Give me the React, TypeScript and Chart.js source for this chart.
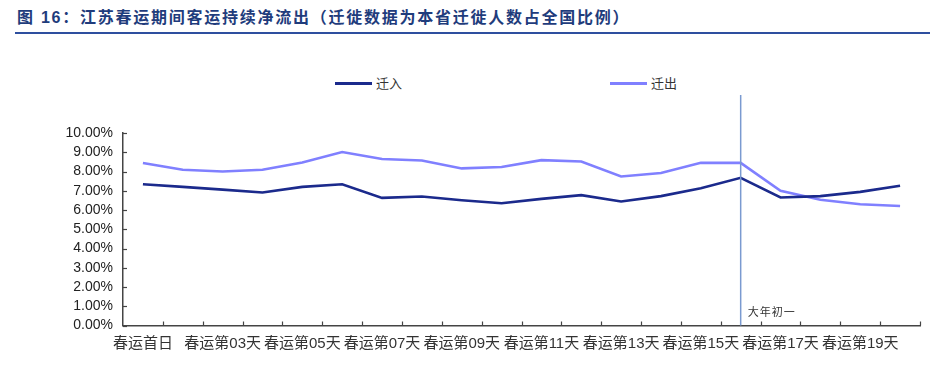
import React, { useEffect, useRef } from "react";
import { Chart, registerables } from "chart.js";

Chart.register(...registerables);

const categories = [
  "春运首日", "春运第02天", "春运第03天", "春运第04天", "春运第05天",
  "春运第06天", "春运第07天", "春运第08天", "春运第09天", "春运第10天",
  "春运第11天", "春运第12天", "春运第13天", "春运第14天", "春运第15天",
  "春运第16天", "春运第17天", "春运第18天", "春运第19天", "春运第20天",
];

const inflow = [
  7.34, 7.2, 7.06, 6.91, 7.2, 7.34, 6.63, 6.7, 6.51, 6.35,
  6.58, 6.77, 6.44, 6.72, 7.13, 7.67, 6.65, 6.72, 6.94, 7.26,
];

const outflow = [
  8.44, 8.09, 8.0, 8.09, 8.47, 9.01, 8.65, 8.57, 8.16, 8.23,
  8.59, 8.52, 7.74, 7.92, 8.45, 8.45, 7.0, 6.53, 6.3, 6.21,
];

const seriesNames = ["迁入", "迁出"];
const markerIndex = 15;
const markerLabel = "大年初一";
const yTicks = [0, 1, 2, 3, 4, 5, 6, 7, 8, 9, 10];

const COLOR_IN = "#1b2a8c";
const COLOR_OUT = "#8080ff";
const FONT = '"Liberation Sans", Arial, "Noto Sans CJK SC", sans-serif';

const extrasPlugin = {
  id: "extras",
  afterDraw(chart: any) {
    const { ctx, chartArea, scales } = chart;
    const xs = scales.x;
    const ys = scales.y;
    ctx.save();
    ctx.strokeStyle = "#444";
    ctx.lineWidth = 1.2;
    const n = categories.length;
    const w = (chartArea.right - chartArea.left) / n;
    for (let i = 1; i <= n; i++) {
      const x = Math.round(chartArea.left + i * w) + 0.5;
      ctx.beginPath();
      ctx.moveTo(x, chartArea.bottom);
      ctx.lineTo(x, chartArea.bottom - 4);
      ctx.stroke();
    }
    yTicks.forEach((v) => {
      const y = Math.round(ys.getPixelForValue(v)) + 0.5;
      ctx.beginPath();
      ctx.moveTo(chartArea.left, y);
      ctx.lineTo(chartArea.left + 4, y);
      ctx.stroke();
    });
    const mx = xs.getPixelForValue(markerIndex);
    ctx.strokeStyle = "#7a9ad0";
    ctx.lineWidth = 1.5;
    ctx.beginPath();
    ctx.moveTo(mx, 95);
    ctx.lineTo(mx, chartArea.bottom);
    ctx.stroke();
    ctx.fillStyle = "#333";
    ctx.font = '11px "Noto Sans CJK SC", sans-serif';
    ctx.textBaseline = "middle";
    ctx.textAlign = "left";
    let tx = mx + 7;
    for (const ch of markerLabel) {
      ctx.fillText(ch, tx, 312);
      tx += 12;
    }
    ctx.restore();
  },
};

export default function App() {
  const ref = useRef<HTMLCanvasElement | null>(null);

  useEffect(() => {
    if (!ref.current) return;
    const chart = new Chart(ref.current, {
      type: "line",
      data: {
        labels: categories,
        datasets: [
          {
            label: seriesNames[0],
            data: inflow,
            borderColor: COLOR_IN,
            backgroundColor: COLOR_IN,
            borderWidth: 2.6,
            pointRadius: 0,
            tension: 0,
          },
          {
            label: seriesNames[1],
            data: outflow,
            borderColor: COLOR_OUT,
            backgroundColor: COLOR_OUT,
            borderWidth: 2.6,
            pointRadius: 0,
            tension: 0,
          },
        ],
      },
      options: {
        animation: false,
        responsive: true,
        maintainAspectRatio: false,
        layout: { padding: { left: 0, right: 24, top: 133, bottom: 0 } },
        plugins: {
          legend: { display: false },
          tooltip: { enabled: false },
        },
        scales: {
          x: {
            type: "category",
            offset: true,
            grid: { display: false, drawTicks: false },
            border: { display: true, color: "#444", width: 1.5 },
            ticks: {
              autoSkip: false,
              maxRotation: 0,
              minRotation: 0,
              padding: 9,
              color: "#333",
              font: { family: FONT, size: 15 },
              callback: (_v: any, i: number) => (i % 2 === 0 ? categories[i] : ""),
            },
            afterFit: (s: any) => {
              s.height = 43.5;
            },
          },
          y: {
            min: 0,
            max: 10,
            grid: { display: false, drawTicks: false },
            border: { display: true, color: "#444", width: 1.5 },
            ticks: {
              stepSize: 1,
              autoSkip: false,
              padding: 10,
              color: "#222",
              font: { family: FONT, size: 14 },
              callback: (v: any) => Number(v).toFixed(2) + "%",
            },
            afterFit: (s: any) => {
              s.width = 123;
            },
          },
        },
      },
      plugins: [extrasPlugin],
    });
    return () => chart.destroy();
  }, []);

  const legendItem = (left: number, color: string, text: string) => (
    <div style={{ position: "absolute", left, top: 74, display: "flex", alignItems: "center" }}>
      <div style={{ width: 37, height: 3, background: color }} />
      <span style={{ marginLeft: 4, fontSize: 13, color: "#333", fontFamily: '"Noto Sans CJK SC", sans-serif', lineHeight: "18px" }}>
        {text}
      </span>
    </div>
  );

  return (
    <div style={{ position: "absolute", left: 0, top: 0, width: 944, height: 369, background: "#fff", overflow: "hidden" }}>
      <div
        style={{
          position: "absolute",
          left: 17,
          top: 7,
          fontSize: 16,
          fontWeight: "bold",
          color: "#1f3c7c",
          letterSpacing: 1.75,
          fontFamily: '"Liberation Sans", Arial, "Noto Sans CJK SC", sans-serif',
          whiteSpace: "nowrap",
          lineHeight: "22px",
        }}
      >
        图 16：江苏春运期间客运持续净流出（迁徙数据为本省迁徙人数占全国比例）
      </div>
      <div style={{ position: "absolute", left: 15, top: 32, width: 915, height: 2, background: "#2e4f9f" }} />
      {legendItem(335, COLOR_IN, seriesNames[0])}
      {legendItem(610, COLOR_OUT, seriesNames[1])}
      <div style={{ position: "absolute", left: 0, top: 0, width: 944, height: 369 }}>
        <canvas ref={ref} />
      </div>
    </div>
  );
}
